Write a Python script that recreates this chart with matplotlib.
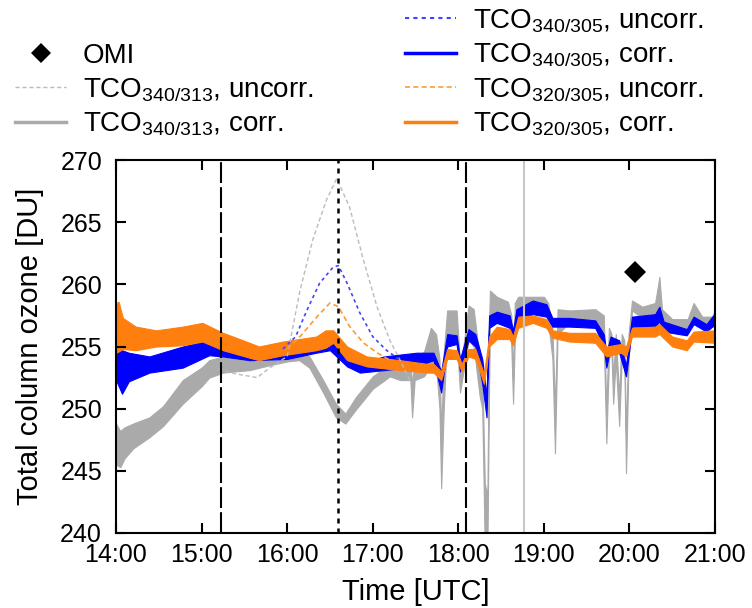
import matplotlib
matplotlib.use("Agg")
import matplotlib.pyplot as plt
from matplotlib.lines import Line2D

plt.rcParams['font.family'] = ['Liberation Sans', 'DejaVu Sans']
plt.rcParams['mathtext.default'] = 'regular'

# time in decimal hours (UTC)
# TCO340/313 corr. (band: low, high)
t_gray = [14.00, 14.05, 14.10, 14.20, 14.39, 14.55, 14.78, 15.00, 15.09, 15.25, 15.40, 15.56,
          15.80, 16.00, 16.14, 16.26, 16.42, 16.57, 16.68, 16.80, 17.00, 17.20, 17.32, 17.44,
          17.46, 17.49, 17.60, 17.68, 17.74, 17.78, 17.80, 17.83, 17.87, 17.98, 18.02, 18.06,
          18.12, 18.18, 18.25, 18.28, 18.31, 18.34, 18.36, 18.37, 18.45, 18.58, 18.62, 18.64,
          18.66, 18.70, 19.00, 19.05, 19.10, 19.13, 19.16, 19.30, 19.60, 19.70, 19.73, 19.76,
          19.79, 19.81, 19.84, 19.88, 19.91, 19.94, 19.96, 19.99, 20.03, 20.15, 20.30, 20.35,
          20.38, 20.50, 20.68, 20.75, 20.85, 20.98, 21.00]
gray_lo = [245.5, 245.3, 246.0, 246.8, 247.7, 248.6, 250.4, 251.8, 252.5, 252.9, 253.0, 253.1,
           253.5, 253.8, 253.9, 253.3, 251.3, 249.3, 248.8, 249.9, 251.6, 252.6, 252.3, 252.3,
           249.3, 252.3, 252.6, 253.5, 253.5, 250.0, 243.6, 250.0, 256.0, 256.0, 251.3, 253.0,
           255.5, 255.0, 251.0, 250.0, 238.5, 238.5, 252.0, 256.5, 257.4, 257.4, 255.0, 250.4,
           255.5, 258.0, 258.0, 257.0, 254.0, 246.4, 256.0, 256.9, 256.9, 255.5, 247.2, 254.0,
           254.5, 250.4, 254.0, 248.6, 254.0, 254.0, 244.8, 254.0, 257.9, 257.3, 257.4, 258.0,
           256.9, 256.3, 256.3, 257.0, 256.6, 256.6, 257.0]
gray_hi = [248.8, 248.2, 248.5, 248.8, 249.3, 250.2, 252.3, 253.3, 253.9, 254.2, 254.0, 253.9,
           254.4, 254.6, 254.6, 254.2, 252.3, 250.4, 249.6, 250.9, 252.6, 253.6, 254.2, 253.8,
           252.0, 253.8, 254.6, 256.5, 256.0, 254.0, 248.0, 254.5, 257.9, 257.9, 253.5, 255.0,
           258.3, 258.0, 254.0, 253.0, 244.0, 243.0, 257.0, 259.5, 259.0, 258.6, 257.5, 252.5,
           258.5, 259.0, 259.0, 258.5, 256.5, 250.0, 258.0, 257.9, 258.0, 257.5, 250.0, 256.5,
           256.0, 252.5, 256.0, 251.0, 256.0, 255.5, 248.0, 256.0, 258.7, 258.2, 258.5, 260.6,
           258.0, 257.2, 257.2, 258.5, 257.4, 257.4, 258.7]

# TCO340/305 corr.
t_blue = [14.00, 14.07, 14.15, 14.39, 14.78, 15.09, 15.25, 15.56, 16.00, 16.34, 16.50, 16.70,
          16.85, 17.13, 17.51, 17.71, 17.80, 17.87, 17.98, 18.02, 18.12, 18.20, 18.28, 18.33,
          18.36, 18.45, 18.60, 18.64, 18.68, 18.87, 19.03, 19.10, 19.30, 19.60, 19.70, 19.73,
          19.78, 19.88, 19.96, 20.00, 20.03, 20.30, 20.35, 20.40, 20.67, 20.75, 20.90, 21.00]
blue_lo = [252.3, 251.2, 252.2, 252.9, 253.3, 254.3, 254.2, 253.9, 254.0, 254.5, 254.7, 253.4,
           252.9, 253.1, 253.4, 253.9, 251.3, 255.0, 255.2, 253.0, 255.5, 255.0, 252.0, 249.3,
           256.5, 256.9, 256.5, 255.5, 257.0, 257.6, 257.4, 256.6, 256.6, 256.5, 255.0, 253.3,
           255.0, 254.5, 252.6, 254.8, 256.6, 256.6, 257.0, 256.2, 255.9, 256.8, 256.2, 256.8]
blue_hi = [255.0, 254.7, 254.5, 254.2, 255.0, 255.5, 255.0, 254.5, 254.7, 255.3, 255.5, 254.5,
           253.6, 254.2, 254.5, 254.5, 253.0, 256.0, 255.9, 254.0, 256.4, 256.0, 254.0, 251.0,
           257.5, 257.8, 257.5, 256.3, 258.0, 258.7, 258.4, 257.3, 257.3, 257.1, 256.0, 254.5,
           255.8, 255.5, 253.5, 255.8, 257.4, 257.6, 258.2, 257.0, 256.4, 257.4, 256.8, 257.7]

# TCO320/305 corr.
t_orange = [14.00, 14.03, 14.08, 14.23, 14.47, 14.78, 15.01, 15.25, 15.56, 15.67, 15.95, 16.34,
            16.45, 16.54, 16.70, 16.93, 17.32, 17.64, 17.71, 17.80, 17.87, 17.98, 18.04, 18.12,
            18.20, 18.30, 18.36, 18.45, 18.60, 18.64, 18.70, 18.87, 19.03, 19.10, 19.30, 19.60,
            19.73, 19.90, 19.96, 20.03, 20.30, 20.35, 20.50, 20.67, 20.75, 21.00]
orange_lo = [254.5, 254.6, 254.8, 254.7, 255.0, 255.1, 255.4, 254.7, 254.1, 253.9, 254.3, 254.7,
             254.9, 255.3, 253.9, 253.4, 253.1, 252.9, 252.9, 252.3, 254.0, 254.0, 253.0, 254.2,
             254.0, 252.0, 255.0, 255.6, 255.6, 255.1, 256.5, 256.9, 256.5, 255.7, 255.4, 255.3,
             254.2, 254.5, 254.2, 255.8, 255.8, 256.0, 255.0, 254.7, 255.4, 255.3]
orange_hi = [258.5, 258.6, 257.3, 256.6, 256.3, 256.6, 256.9, 256.1, 255.3, 255.0, 255.4, 255.8,
             256.3, 256.3, 255.0, 254.2, 253.9, 253.6, 253.6, 253.0, 254.8, 254.7, 253.6, 254.8,
             254.8, 252.8, 255.8, 256.6, 256.4, 255.8, 257.4, 257.5, 257.2, 256.3, 256.1, 256.1,
             255.0, 255.2, 255.0, 256.5, 256.6, 256.8, 255.8, 255.5, 256.2, 256.3]

# uncorrected series
t_gray_u = [15.20, 15.40, 15.65, 15.80, 16.00, 16.15, 16.30, 16.46, 16.58, 16.73, 16.89, 17.05,
            17.20, 17.32, 17.45]
gray_u = [253.2, 252.8, 252.5, 253.3, 254.2, 259.5, 263.6, 266.8, 268.5, 266.2, 262.0, 258.2,
          255.5, 253.9, 252.0]
t_blue_u = [15.95, 16.10, 16.23, 16.38, 16.54, 16.60, 16.70, 16.85, 17.00, 17.16, 17.32]
blue_u = [254.8, 255.8, 257.9, 260.1, 261.4, 261.5, 260.1, 257.7, 255.8, 254.7, 253.9]
t_orange_u = [16.00, 16.15, 16.35, 16.50, 16.60, 16.73, 16.89, 17.05, 17.20]
orange_u = [254.8, 255.8, 257.4, 258.5, 258.2, 256.6, 255.3, 254.5, 253.9]

omi_t = [20.065]
omi_v = [261.0]

dashed_lines = [15.23, 18.085]
dotted_line = 16.595
gray_line = 18.77

hours = [14, 15, 16, 17, 18, 19, 20, 21]
hour_labels = ['%d:00' % h for h in hours]

GRAY = '#aaaaaa'
BLUE = '#0000ff'
ORANGE = '#ff7f0e'

fig = plt.figure(figsize=(7.52, 6.08), dpi=100)
ax = fig.add_axes([116 / 752, 75 / 608, 599 / 752, 373 / 608])

ax.plot(t_gray_u, gray_u, color='#bbbbbb', lw=1.0, dashes=(3, 2))
ax.plot(t_blue_u, blue_u, color='#4444ff', lw=1.2, dashes=(2, 2))
ax.plot(t_orange_u, orange_u, color='#ff9933', lw=1.2, dashes=(3, 2))

ax.fill_between(t_gray, gray_lo, gray_hi, color=GRAY, lw=0.8, edgecolor=GRAY)
ax.fill_between(t_blue, blue_lo, blue_hi, color=BLUE, lw=0.8, edgecolor=BLUE)
ax.fill_between(t_orange, orange_lo, orange_hi, color=ORANGE, lw=0.8, edgecolor=ORANGE)

for x in dashed_lines:
    ax.axvline(x, color='black', lw=1.5, dashes=(10, 2))
ax.axvline(dotted_line, color='black', lw=1.8, dashes=(2, 2))
ax.axvline(gray_line, color='#c8c8c8', lw=1.5)

ax.plot(omi_t, omi_v, 'D', color='black', ms=11, mew=0)

ax.set_xlim(14, 21)
ax.set_ylim(240, 270)
ax.set_xticks(hours)
ax.set_xticklabels(hour_labels)
ax.set_yticks(range(240, 271, 5))
ax.tick_params(direction='in', length=7, width=1.5, top=True, right=True, labelsize=18)
ax.tick_params(axis='x', pad=7)
ax.tick_params(axis='y', pad=10)
for s in ax.spines.values():
    s.set_linewidth(1.5)

ax.set_xlabel('Time [UTC]', fontsize=21, labelpad=8)
ax.set_ylabel('Total column ozone [DU]', fontsize=21, labelpad=12)

left_handles = [
    Line2D([], [], marker='D', color='black', ls='none', ms=10, mew=0),
    Line2D([], [], color='#bbbbbb', lw=1.0, dashes=(3, 2)),
    Line2D([], [], color=GRAY, lw=2.5),
]
left_labels = ['OMI', r'TCO$_{340/313}$, uncorr.', r'TCO$_{340/313}$, corr.']
right_handles = [
    Line2D([], [], color='#4444ff', lw=1.5, dashes=(2, 2)),
    Line2D([], [], color=BLUE, lw=2.5),
    Line2D([], [], color='#ff9933', lw=1.2, dashes=(3, 2)),
    Line2D([], [], color=ORANGE, lw=2.5),
]
right_labels = [r'TCO$_{340/305}$, uncorr.', r'TCO$_{340/305}$, corr.',
                r'TCO$_{320/305}$, uncorr.', r'TCO$_{320/305}$, corr.']

leg_kw = dict(frameon=False, fontsize=20, handlelength=1.85, handletextpad=0.6,
              labelspacing=0.25, borderpad=0, borderaxespad=0)
leg1 = fig.legend(left_handles, left_labels, loc='lower left',
                  bbox_to_anchor=(15 / 752, 1 - 138 / 608), **leg_kw)
leg2 = fig.legend(right_handles, right_labels, loc='lower left',
                  bbox_to_anchor=(405 / 752, 1 - 138 / 608), **leg_kw)

fig.savefig('out.png', dpi=100)
